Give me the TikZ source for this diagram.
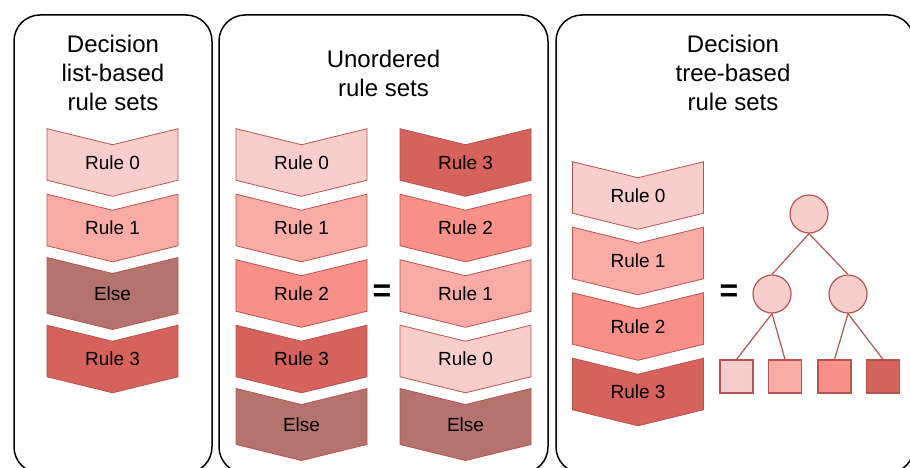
\documentclass[tikz,border=0pt]{standalone}
\usepackage{fontspec}
\setmainfont{Liberation Sans}
\usepackage{xcolor}
\usetikzlibrary{shapes.symbols,positioning}
\definecolor{ruleline}{HTML}{B85450}
\definecolor{rulezero}{HTML}{F8CECC}
\definecolor{ruleone}{HTML}{F9ABA6}
\definecolor{ruletwo}{HTML}{F88F89}
\definecolor{rulethree}{HTML}{D5625C}
\definecolor{ruleelse}{HTML}{B5736F}

\begin{document}
\begin{tikzpicture}[
    x=1pt, y=-1pt,
    panel/.style={draw=black, line width=1.5pt, rounded corners=26pt},
    title/.style={align=center, font=\fontsize{24}{29}\selectfont},
    chev/.style={shape=signal, signal from=north, signal to=south,
        signal pointer angle=152.5, minimum width=131pt, minimum height=49pt,
        inner sep=0pt, draw=ruleline, line width=0.8pt,
        font=\fontsize{19}{23}\selectfont},
    split/.style={circle, draw=ruleline, fill=rulezero, line width=1.2pt,
        minimum size=38pt, inner sep=0pt},
    leaf/.style={rectangle, draw=ruleline, line width=1.2pt,
        minimum size=33pt, inner sep=0pt},
    branch/.style={draw=ruleline, line width=1.2pt},
    eqsign/.style={font=\bfseries\fontsize{32}{32}\selectfont, inner sep=0pt}]
\useasboundingbox (0,0) rectangle (910,468);

% panels
\draw[panel] (14,15) rectangle (212,473);
\draw[panel] (219,15) rectangle (548,473);
\draw[panel] (556,15) rectangle (914,473);

% titles
\node[title] (tlist) at (113,73) {Decision\\list-based\\rule sets};
\node[title] (tunord) at (383.5,73.5) {Unordered\\rule sets};
\node[title] (ttree) at (733,73) {Decision\\tree-based\\rule sets};

% decision list
\foreach \lbl/\col [count=\i] in {Rule 0/rulezero, Rule 1/ruleone, Else/ruleelse, Rule 3/rulethree}
    \node[chev, fill=\col] (dl\i) at (112.5,97+65.5*\i) {\lbl};

% unordered
\foreach \lbl/\col [count=\i] in {Rule 0/rulezero, Rule 1/ruleone, Rule 2/ruletwo, Rule 3/rulethree, Else/ruleelse}
    \node[chev, fill=\col] (ua\i) at (301.5,97+65.5*\i) {\lbl};
\foreach \lbl/\col [count=\i] in {Rule 3/rulethree, Rule 2/ruletwo, Rule 1/ruleone, Rule 0/rulezero, Else/ruleelse}
    \node[chev, fill=\col] (ub\i) at (465.5,97+65.5*\i) {\lbl};
\node[eqsign] (eqa) at (382,293) {=};

% decision tree
\foreach \lbl/\col [count=\i] in {Rule 0/rulezero, Rule 1/ruleone, Rule 2/ruletwo, Rule 3/rulethree}
    \node[chev, fill=\col] (dt\i) at (638,130+65.5*\i) {\lbl};
\node[eqsign] (eqb) at (729,293) {=};

\node[split] (root) at (809,214) {};
\node[split] (sl) at (772,294) {};
\node[split] (sr) at (848,294) {};
\foreach \col/\xx [count=\i] in {rulezero/736.5, ruleone/785, ruletwo/834.5, rulethree/883}
    \node[leaf, fill=\col] (lf\i) at (\xx,376.5) {};

\draw[branch] (root.south) -- (sl.north);
\draw[branch] (root.south) -- (sr.north);
\draw[branch] (sl.south) -- (lf1.north);
\draw[branch] (sl.south) -- (lf2.north);
\draw[branch] (sr.south) -- (lf3.north);
\draw[branch] (sr.south) -- (lf4.north);

\end{tikzpicture}
\end{document}
